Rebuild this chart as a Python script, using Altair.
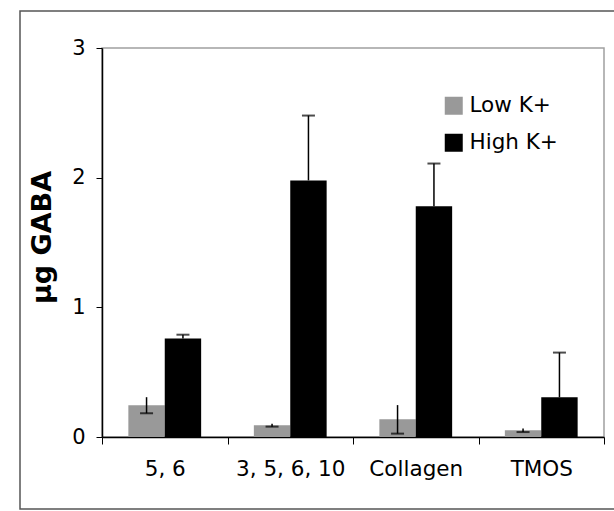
import altair as alt
import pandas as pd

categories = ["5, 6", "3, 5, 6, 10", "Collagen", "TMOS"]
series = ["Low K+", "High K+"]
low_values = [0.245, 0.091, 0.136, 0.052]
low_errors = [0.062, 0.011, 0.11, 0.014]
high_values = [0.759, 1.979, 1.779, 0.306]
high_errors = [0.03, 0.50, 0.33, 0.345]
y_ticks = [0, 1, 2, 3]

rows = []
for c, v, e in zip(categories, low_values, low_errors):
    rows.append(dict(cat=c, series="Low K+", value=v, lo=v - e, hi=v + e, cap=v - e))
for c, v, e in zip(categories, high_values, high_errors):
    rows.append(dict(cat=c, series="High K+", value=v, lo=v, hi=v + e, cap=v + e))
df = pd.DataFrame(rows)

x_enc = alt.X(
    "cat:N",
    sort=categories,
    scale=alt.Scale(paddingInner=0, paddingOuter=0),
    axis=alt.Axis(title=None, tickBand="extent", labelAngle=0, tickSize=7,
                  labelPadding=14, domainWidth=1.5, labelFontSize=21.5,
                  labelFont="DejaVu Sans", labelColor="black"),
)
xoff = alt.XOffset("series:N", sort=series,
                   scale=alt.Scale(domain=series, paddingInner=0, paddingOuter=0.724))
y_scale = alt.Scale(domain=[0, 3], nice=False)

base = alt.Chart(df)

bars = base.mark_bar().encode(
    x=x_enc,
    xOffset=xoff,
    y=alt.Y("value:Q", scale=y_scale,
            axis=alt.Axis(values=y_ticks, title="µg GABA", grid=False, tickSize=6,
                          labelPadding=11, domainWidth=1.5, format="d",
                          labelFontSize=21, labelFont="DejaVu Sans", labelColor="black",
                          titleFont="DejaVu Sans", titleFontWeight="bold",
                          titleFontSize=27, titleColor="black",
                          titleAngle=270, titleX=-60, titleY=189,
                          titleAlign="center", titleBaseline="middle")),
    color=alt.Color("series:N", sort=series,
                    scale=alt.Scale(domain=series, range=["#999999", "#000000"]),
                    legend=alt.Legend(title=None, orient="none", legendX=341, legendY=47,
                                      symbolType="square", symbolSize=324,
                                      symbolStrokeWidth=0, labelFontSize=21.5,
                                      labelFont="DejaVu Sans", labelColor="black",
                                      labelOffset=5, rowPadding=14, padding=0)),
)

rules = base.mark_rule(color="black", strokeWidth=1.5).encode(
    x=x_enc, xOffset=xoff,
    y=alt.Y("lo:Q", scale=y_scale), y2="hi:Q",
)

caps = base.mark_tick(color="black", thickness=2, size=13).encode(
    x=x_enc, xOffset=xoff,
    y=alt.Y("cap:Q", scale=y_scale),
)

frame = alt.Chart(pd.DataFrame({"f": [0]})).mark_rect(
    fillOpacity=0, stroke="#555555", strokeWidth=1.5
).encode(
    x=alt.value(-82), x2=alt.value(530), y=alt.value(-37), y2=alt.value(461)
)

chart = alt.layer(bars, rules, caps, frame).properties(
    width=502, height=389,
    background="white",
    autosize=alt.AutoSizeParams(type="none"),
    padding={"left": 102, "top": 48, "right": 10, "bottom": 74},
).configure_view(
    stroke="#a0a0a0", strokeWidth=1.5
).configure_axis(
    labelFont="DejaVu Sans", labelFontSize=21, labelColor="black",
    domainColor="black", tickColor="black",
)

chart.save("out.html", embed_options={"renderer": "svg", "actions": False})
